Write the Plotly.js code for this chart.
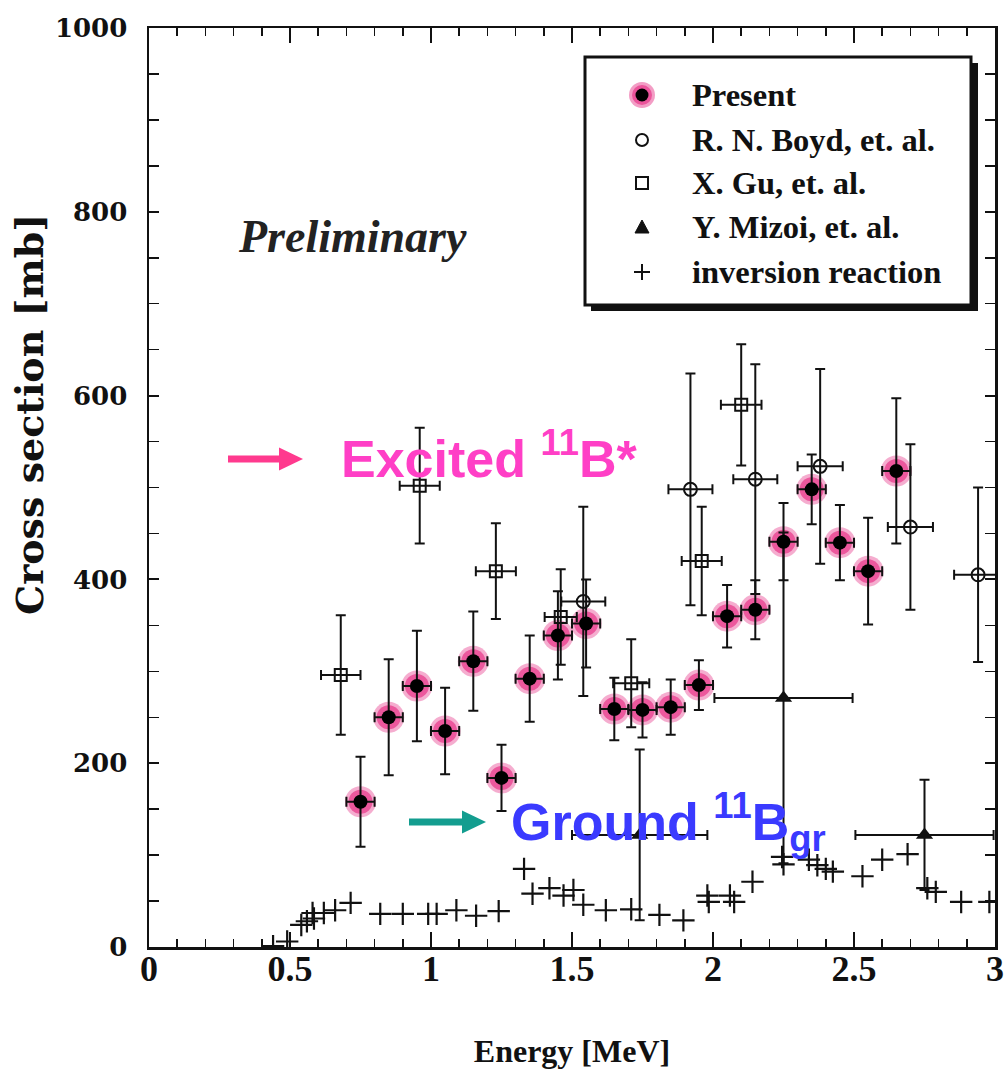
<!DOCTYPE html>
<html>
<head>
<meta charset="utf-8">
<script src="https://cdn.plot.ly/plotly-3.0.1.min.js"></script>
<style>
  html, body { margin: 0; padding: 0; background: #fff; }
  #chart { width: 1008px; height: 1074px; }
</style>
</head>
<body>
<div id="chart"></div>
<script>
// ---------------- data ----------------
const presentX    = [0.75, 0.85, 0.95, 1.05, 1.15, 1.25, 1.35, 1.45, 1.55, 1.65, 1.75, 1.85, 1.95, 2.05, 2.15, 2.25, 2.35, 2.45, 2.55, 2.65];
const presentY    = [158, 250, 284, 235, 311, 184, 292, 339, 352, 259, 258, 261, 285, 360, 367, 441, 498, 440, 409, 518];
const presentErr  = [49, 63, 60, 47, 54, 36, 47, 48, 48, 34, 30, 30, 27, 34, 32, 42, 38, 41, 58, 79];
const presentXErr = [0.05, 0.05, 0.05, 0.05, 0.05, 0.05, 0.05, 0.05, 0.05, 0.05, 0.05, 0.05, 0.05, 0.05, 0.05, 0.05, 0.05, 0.05, 0.05, 0.05];

const boydX    = [1.54, 1.92, 2.15, 2.38, 2.70, 2.94];
const boydY    = [376, 498, 509, 523, 457, 405];
const boydErr  = [103, 126, 125, 106, 90, 95];
const boydXErr = [0.078, 0.078, 0.078, 0.08, 0.08, 0.085];

const guX    = [0.68, 0.96, 1.23, 1.46, 1.71, 1.96, 2.10];
const guY    = [296, 502, 409, 359, 287, 420, 590];
const guErr  = [65, 63, 52, 52, 48, 59, 66];
const guXErr = [0.07, 0.071, 0.071, 0.057, 0.064, 0.071, 0.072];

const mizoiX    = [1.74, 2.25, 2.75];
const mizoiY    = [122, 271, 122];
const mizoiErr  = [93, 180, 60];
const mizoiXErr = [0.24, 0.245, 0.245];

const invX = [0.44, 0.49, 0.54, 0.56, 0.585, 0.58, 0.62, 0.66, 0.715, 0.82, 0.90, 0.99, 1.02, 1.09, 1.16, 1.24,
              1.33, 1.36, 1.42, 1.47, 1.505, 1.54, 1.62, 1.71, 1.81, 1.895, 1.98, 1.985, 2.06, 2.075, 2.14,
              2.245, 2.25, 2.34, 2.37, 2.40, 2.425, 2.53, 2.60, 2.69, 2.76, 2.79, 2.88, 2.98];
const invY = [1, 6, 24, 28, 31, 37, 37, 40, 48, 36, 36, 36, 36, 40, 34, 39,
              85, 58, 64, 56, 62, 46, 40, 41, 35, 29, 56, 49, 56, 49, 71,
              98, 90, 95, 89, 85, 82, 77, 95, 101, 64, 60, 49, 49];

const xTickVals   = [0, 0.5, 1, 1.5, 2, 2.5, 3];
const xTickLabels = ['0', '0.5', '1', '1.5', '2', '2.5', '3'];
const yTickVals   = [0, 200, 400, 600, 800, 1000];
const yTickLabels = ['0', '200', '400', '600', '800', '1000'];

const legendLabels = ['Present', 'R. N. Boyd, et. al.', 'X. Gu, et. al.', 'Y. Mizoi, et. al.', 'inversion reaction'];

// ---------------- layout helpers (pixel -> paper) ----------------
const M = { l: 149, r: 13, t: 28, b: 127 };
const W = 1008, H = 1074;
const PW = W - M.l - M.r, PH = H - M.t - M.b;
const PX = px => (px - M.l) / PW;
const PY = py => (H - M.b - py) / PH;

const serifB = { family: 'Liberation Serif, Times New Roman, serif', weight: 'bold', color: '#111' };

function errY(arr) { return { type: 'data', array: arr, symmetric: true, color: '#111', thickness: 2, width: 5 }; }
function errX(arr) { return { type: 'data', array: arr, symmetric: true, color: '#111', thickness: 2, width: 5 }; }

const traces = [
  { x: presentX, y: presentY, mode: 'markers', hoverinfo: 'skip', showlegend: false,
    marker: { size: 31, color: 'rgba(232,60,140,0.42)' } },
  { x: presentX, y: presentY, mode: 'markers', hoverinfo: 'skip', showlegend: false,
    marker: { size: 24, color: 'rgba(232,60,140,0.75)' } },
  { x: invX, y: invY, mode: 'markers', name: legendLabels[4], showlegend: false,
    marker: { symbol: 'cross-thin-open', size: 16, line: { width: 2.2, color: '#111' }, color: '#111' } },
  { x: mizoiX, y: mizoiY, mode: 'markers', name: legendLabels[3], showlegend: false,
    error_y: errY(mizoiErr), error_x: errX(mizoiXErr),
    marker: { symbol: 'triangle-up', size: 15, color: '#111' } },
  { x: guX, y: guY, mode: 'markers', name: legendLabels[2], showlegend: false,
    error_y: errY(guErr), error_x: errX(guXErr),
    marker: { symbol: 'square-open', size: 12, color: '#111', line: { width: 2, color: '#111' } } },
  { x: boydX, y: boydY, mode: 'markers', name: legendLabels[1], showlegend: false,
    error_y: errY(boydErr), error_x: errX(boydXErr),
    marker: { symbol: 'circle-open', size: 13, color: '#111', line: { width: 2, color: '#111' } } },
  { x: presentX, y: presentY, mode: 'markers', name: legendLabels[0], showlegend: false,
    error_y: errY(presentErr), error_x: errX(presentXErr),
    marker: { symbol: 'circle', size: 14, color: '#000' } }
];

// ---------------- legend box (drawn) ----------------
const shapes = [];
const annotations = [];
shapes.push({ type: 'rect', xref: 'paper', yref: 'paper', x0: PX(591), x1: PX(978), y0: PY(311), y1: PY(63),
  fillcolor: '#111', line: { width: 0 } });
shapes.push({ type: 'rect', xref: 'paper', yref: 'paper', x0: PX(585), x1: PX(971), y0: PY(305), y1: PY(57),
  fillcolor: '#fff', line: { width: 3, color: '#111' } });

const rowY = [95, 140, 183, 227, 272];
const symX = 642;
// Present symbol
shapes.push({ type: 'circle', xref: 'paper', yref: 'paper', x0: PX(symX - 13), x1: PX(symX + 13), y0: PY(rowY[0] + 13), y1: PY(rowY[0] - 13),
  fillcolor: 'rgba(232,60,140,0.5)', line: { width: 0 } });
shapes.push({ type: 'circle', xref: 'paper', yref: 'paper', x0: PX(symX - 10), x1: PX(symX + 10), y0: PY(rowY[0] + 10), y1: PY(rowY[0] - 10),
  fillcolor: 'rgba(232,60,140,0.75)', line: { width: 0 } });
shapes.push({ type: 'circle', xref: 'paper', yref: 'paper', x0: PX(symX - 6.5), x1: PX(symX + 6.5), y0: PY(rowY[0] + 6.5), y1: PY(rowY[0] - 6.5),
  fillcolor: '#000', line: { width: 0 } });
// Boyd
shapes.push({ type: 'circle', xref: 'paper', yref: 'paper', x0: PX(symX - 6), x1: PX(symX + 6), y0: PY(rowY[1] + 6), y1: PY(rowY[1] - 6),
  fillcolor: 'rgba(0,0,0,0)', line: { width: 2, color: '#111' } });
// Gu
shapes.push({ type: 'rect', xref: 'paper', yref: 'paper', x0: PX(symX - 6), x1: PX(symX + 6), y0: PY(rowY[2] + 6), y1: PY(rowY[2] - 6),
  fillcolor: 'rgba(0,0,0,0)', line: { width: 2, color: '#111' } });
// Mizoi triangle
shapes.push({ type: 'path', xref: 'paper', yref: 'paper',
  path: `M${PX(symX - 7)},${PY(rowY[3] + 6)} L${PX(symX + 7)},${PY(rowY[3] + 6)} L${PX(symX)},${PY(rowY[3] - 7)} Z`,
  fillcolor: '#111', line: { width: 1, color: '#111' } });
// inversion plus
shapes.push({ type: 'line', xref: 'paper', yref: 'paper', x0: PX(symX - 8), x1: PX(symX + 8), y0: PY(rowY[4]), y1: PY(rowY[4]), line: { width: 2, color: '#111' } });
shapes.push({ type: 'line', xref: 'paper', yref: 'paper', x0: PX(symX), x1: PX(symX), y0: PY(rowY[4] - 8), y1: PY(rowY[4] + 8), line: { width: 2, color: '#111' } });

legendLabels.forEach((t, i) => {
  annotations.push({ xref: 'paper', yref: 'paper', x: PX(690), y: PY(rowY[i]), xanchor: 'left', yanchor: 'middle',
    text: t, showarrow: false, font: Object.assign({}, serifB, { size: 32.5 }) });
});

// ---------------- annotations: axis title, Preliminary, Excited, Ground ----------------
annotations.push({ xref: 'paper', yref: 'paper', x: PX(29), y: PY(415), xanchor: 'center', yanchor: 'middle',
  text: 'Cross section [mb]', textangle: -90, showarrow: false,
  font: { family: 'DejaVu Serif, serif', weight: 'bold', size: 38, color: '#111' } });

annotations.push({ xref: 'paper', yref: 'paper', x: PX(352), y: PY(236), xanchor: 'center', yanchor: 'middle',
  text: '<i>Preliminary</i>', showarrow: false,
  font: { family: 'Liberation Serif, Times New Roman, serif', weight: 'bold', style: 'italic', size: 46, color: '#222' } });

annotations.push({ xref: 'paper', yref: 'paper', x: PX(339), y: PY(455), xanchor: 'left', yanchor: 'middle',
  text: 'Excited <sup>11</sup>B*', showarrow: false,
  font: { family: 'Liberation Sans, Arial, sans-serif', weight: 'bold', size: 52, color: '#ff3fc6' } });

annotations.push({ xref: 'paper', yref: 'paper', x: PX(509), y: PY(822), xanchor: 'left', yanchor: 'middle',
  text: 'Ground <sup>11</sup>B<sub>gr</sub>', showarrow: false,
  font: { family: 'Liberation Sans, Arial, sans-serif', weight: 'bold', size: 52, color: '#3a3aff' } });

// arrows
function arrow(x0, x1, y, color) {
  shapes.push({ type: 'line', xref: 'paper', yref: 'paper', x0: PX(x0), x1: PX(x1 - 20), y0: PY(y), y1: PY(y),
    line: { width: 7, color: color } });
  shapes.push({ type: 'path', xref: 'paper', yref: 'paper',
    path: `M${PX(x1 - 24)},${PY(y - 11.5)} L${PX(x1)},${PY(y)} L${PX(x1 - 24)},${PY(y + 11.5)} Z`,
    fillcolor: color, line: { width: 0 } });
}
arrow(228, 303, 459, '#ff3a8e');
arrow(409, 486, 822, '#139d8f');

// ---------------- layout ----------------
const layout = {
  width: W, height: H,
  margin: M,
  paper_bgcolor: '#fff', plot_bgcolor: '#fff',
  showlegend: false,
  xaxis: {
    range: [0, 3], autorange: false,
    tickmode: 'array', tickvals: xTickVals, ticktext: xTickLabels,
    ticks: 'inside', ticklen: 15, tickwidth: 2, tickcolor: '#111',
    minor: { tickmode: 'linear', tick0: 0, dtick: 0.1, ticks: 'inside', ticklen: 8, tickwidth: 1.5, tickcolor: '#111', showgrid: false },
    showline: true, linewidth: 2.5, linecolor: '#111', mirror: 'allticks',
    showgrid: false, zeroline: false,
    ticklabelstandoff: -12,
    tickfont: Object.assign({}, serifB, { size: 36 }),
    title: { text: 'Energy [MeV]', standoff: 52, font: Object.assign({}, serifB, { size: 32 }) }
  },
  yaxis: {
    range: [0, 1000], autorange: false,
    tickmode: 'array', tickvals: yTickVals, ticktext: yTickLabels,
    ticks: 'inside', ticklen: 10, tickwidth: 2, tickcolor: '#111',
    minor: { tickmode: 'linear', tick0: 0, dtick: 50, ticks: 'inside', ticklen: 10, tickwidth: 1.5, tickcolor: '#111', showgrid: false },
    showline: true, linewidth: 2.5, linecolor: '#111', mirror: 'allticks',
    showgrid: false, zeroline: false,
    ticklabelstandoff: 14,
    tickfont: { family: 'DejaVu Serif, serif', weight: 'bold', size: 26, color: '#111' }
  },
  shapes: shapes,
  annotations: annotations
};

Plotly.newPlot('chart', traces, layout, { staticPlot: true, displayModeBar: false });
</script>
</body>
</html>
